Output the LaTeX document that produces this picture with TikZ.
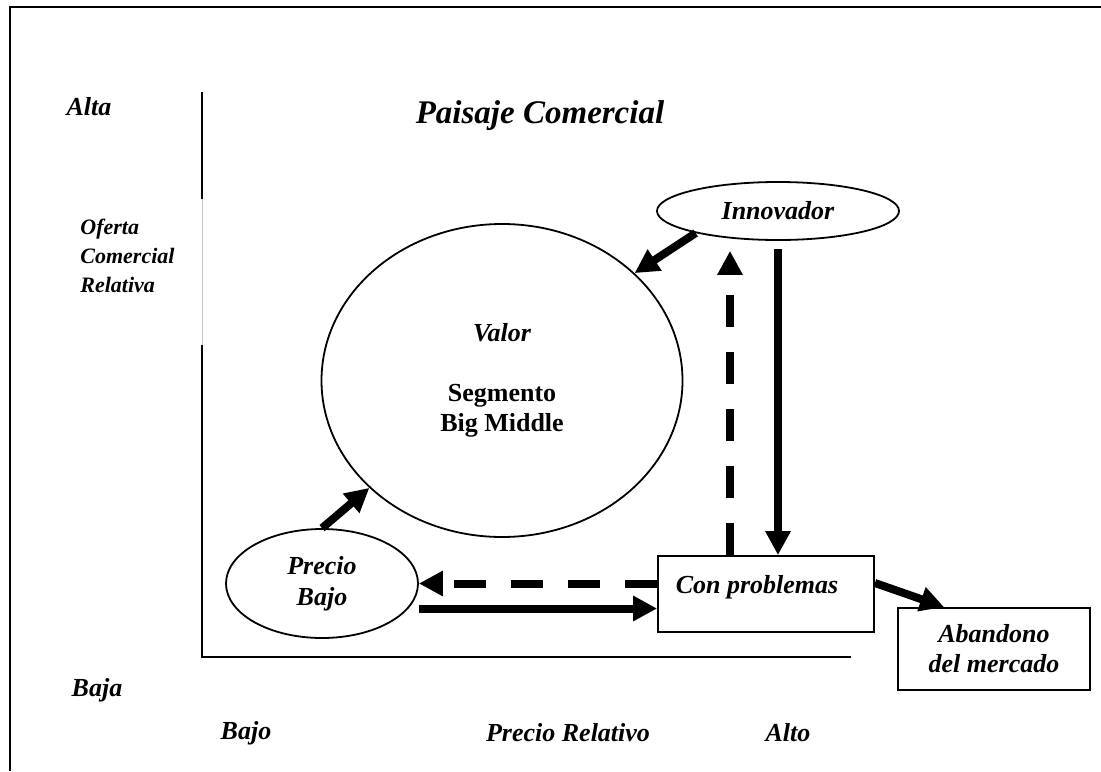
\documentclass[tikz,border=0pt]{standalone}
\usepackage{fontspec}
\setmainfont{Liberation Serif}
\usetikzlibrary{arrows.meta,shapes.geometric}

\tikzset{
  txt/.style={font=\fontsize{13}{15}\selectfont\bfseries\itshape, align=center},
  oval/.style={draw, ellipse, line width=0.9pt, inner sep=0pt, txt},
  caja/.style={draw, rectangle, line width=0.9pt, inner sep=0pt, txt},
  flecha/.style={line width=4pt, -{Triangle[length=12pt,width=12pt]}},
  flechapunteada/.style={flecha, dash pattern=on 16pt off 12.5pt}
}

\begin{document}
\begin{tikzpicture}[x=0.5pt, y=-0.5pt]
    \useasboundingbox (0,0) rectangle (1101,771);
    % Frame and axes
    \draw[line width=1pt] (10,771) -- (10,7) -- (1101,7);
    \draw[line width=1pt] (202,92) -- (202,199);
    \draw[line width=0.5pt, gray!45] (202,199) -- (202,345);
    \draw[line width=1pt] (202,345) -- (202,657) -- (851,657);

    % Axis labels
    \node[txt] (alta) at (89,107) {Alta};
    \node[txt, align=left, anchor=west, inner sep=0pt, font=\fontsize{11}{14.5}\selectfont\bfseries\itshape] (oferta) at (80,256) {Oferta\\Comercial\\Relativa};
    \node[txt] (baja) at (97,690) {Baja};
    \node[txt] (bajo) at (246,733) {Bajo};
    \node[txt] (preciorel) at (568,733) {Precio Relativo};
    \node[txt] (alto) at (788,733) {Alto};
    \node[txt, font=\fontsize{16.5}{18}\selectfont\bfseries\itshape] (titulo) at (540,116) {Paisaje Comercial};

    % Segments
    \node[oval, minimum width=180.5pt, minimum height=156.5pt] (valor) at (502,380.5)
        {Valor\\[15pt]\upshape Segmento\\\upshape Big Middle};
    \node[oval, minimum width=121pt, minimum height=29pt] (innov) at (778,211) {Innovador};
    \node[oval, minimum width=96pt, minimum height=54.5pt] (pbajo) at (322,583.5) {Precio\\[0.5pt]Bajo};
    \node[caja, minimum width=108pt, minimum height=38pt, text height=9pt, text depth=10pt] (prob) at (766,594)
        {Con problemas\hspace*{9pt}};
    \node[caja, minimum width=96pt, minimum height=41pt] (aband) at (994,649) {Abandono\\del mercado};

    % Movements between segments
    \draw[flecha] (innov.195) -- (valor.39);
    \draw[flecha] (pbajo.north) -- (valor.219);
    \draw[flecha, shorten <=4pt] (innov.south) -- (innov.south |- prob.north);
    \draw[flechapunteada, shorten >=5pt] ([xshift=-24pt]innov.south |- prob.north) -- ([xshift=-24pt]innov.south);
    \draw[flechapunteada] (prob.west |- pbajo.east) -- (pbajo.east);
    \draw[flecha] ([yshift=-12.5pt]pbajo.east) -- ([yshift=-12.5pt]pbajo.east -| prob.west);
    \draw[flecha] ([yshift=5.5pt]prob.east) -- ([xshift=23.5pt]aband.north west);
\end{tikzpicture}
\end{document}
